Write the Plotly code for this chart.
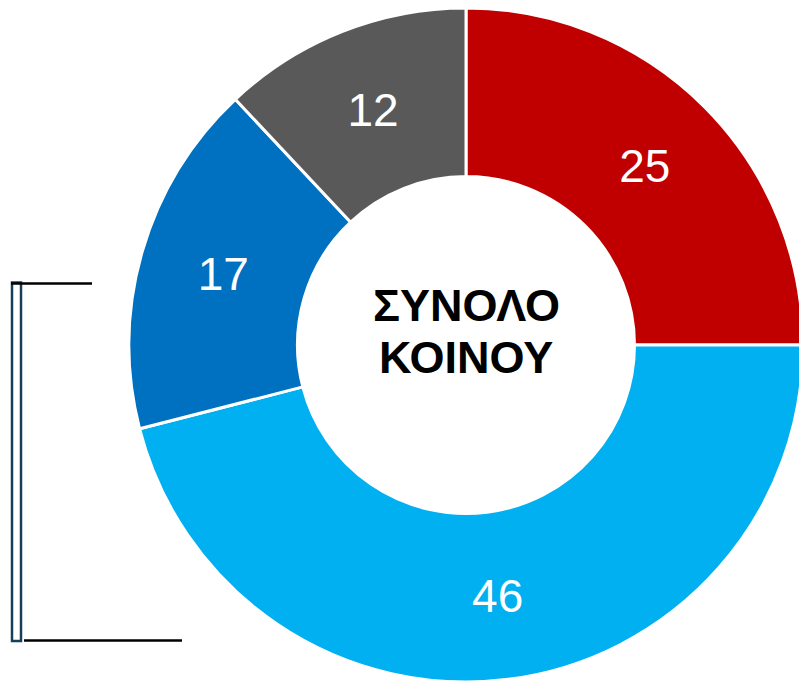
import plotly.graph_objects as go

# share of total (%), clockwise from 12 o'clock
groups = ["Κατηγορία Α", "Κατηγορία Β", "Κατηγορία Γ", "Κατηγορία Δ"]
shares = [25, 46, 17, 12]
slice_colors = ["#C00000", "#00B0F0", "#0070C0", "#595959"]
center_lines = ["ΣΥΝΟΛΟ", "ΚΟΙΝΟΥ"]

# figure a little wider than the 799px window so the donut can run off the right edge
W, H = 812, 682


def px_x(v):
    return v / W


def px_y(v):
    return 1 - v / H


# donut: centre (466, 345) in window pixels, outer radius ~338
cx, cy, r = 466, 345, 337

fig = go.Figure()

fig.add_trace(
    go.Pie(
        labels=groups,
        values=shares,
        text=[str(v) for v in shares],
        textinfo="text",
        textposition="inside",
        insidetextorientation="horizontal",
        textfont=dict(family="Liberation Sans, Arial, sans-serif", size=46, color="white"),
        marker=dict(colors=slice_colors, line=dict(color="white", width=3)),
        hole=0.5,
        sort=False,
        direction="clockwise",
        rotation=0,
        domain=dict(x=[px_x(cx - r), min(1, px_x(cx + r))],
                    y=[max(0, px_y(cy + r)), min(1, px_y(cy - r))]),
        hoverinfo="label+value",
    )
)

# centre label, one annotation per line to keep the tight line spacing
for line, ypx in zip(center_lines, [305.5, 357.5]):
    fig.add_annotation(
        text="<b>" + line + "</b>",
        x=px_x(466), y=px_y(ypx),
        xref="paper", yref="paper",
        showarrow=False,
        font=dict(family="Liberation Sans, Arial, sans-serif", size=45, color="black"),
        xanchor="center", yanchor="middle",
    )

# bracket on the left
fig.add_shape(type="rect", xref="paper", yref="paper",
              x0=px_x(12), x1=px_x(21), y0=px_y(282.5), y1=px_y(641),
              line=dict(color="#16405A", width=2.5), fillcolor="white")
fig.add_shape(type="line", xref="paper", yref="paper",
              x0=px_x(11), x1=px_x(92), y0=px_y(283.5), y1=px_y(283.5),
              line=dict(color="black", width=2.5))
fig.add_shape(type="line", xref="paper", yref="paper",
              x0=px_x(24), x1=px_x(182), y0=px_y(640.5), y1=px_y(640.5),
              line=dict(color="black", width=2.5))

fig.update_layout(
    width=W, height=H,
    margin=dict(l=0, r=0, t=0, b=0),
    paper_bgcolor="white",
    plot_bgcolor="white",
    showlegend=False,
)

# figure sits flush in the window corner
fig.write_html("out.html",
               config={"displayModeBar": False},
               post_script="document.body.style.margin='0';"
                           "document.body.style.overflow='hidden';")
